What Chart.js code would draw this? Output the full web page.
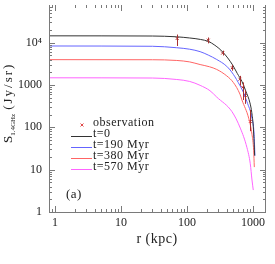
<!DOCTYPE html>
<html>
<head>
<meta charset="utf-8">
<script src="https://cdn.jsdelivr.net/npm/chart.js@4.4.1/dist/chart.umd.min.js"></script>
<style>
  html, body { margin: 0; padding: 0; background: #fff; }
  #chart { display: block; }
</style>
</head>
<body>
<canvas id="chart" width="275" height="264"></canvas>
<script>
// model curves, r in kpc, S in Jy/sr
var rT0    = [0.83, 30, 70, 110, 160, 210, 265, 350, 490, 580, 680, 780, 900, 960, 1010, 1040, 1060];
var sT0    = [14500, 14350, 13750, 12900, 11920, 10720, 8670, 5970, 2990, 1860, 1213, 713, 377, 222, 105, 42.8, 21.5];
var rT190  = [0.83, 30, 70, 110, 158, 210, 282, 400, 503, 635, 713, 811, 966, 1040, 1070];
var sT190  = [8350, 8220, 7590, 7000, 6135, 5095, 4010, 2765, 1790, 969, 679, 400, 164, 68, 21.4];
var rT380  = [0.83, 30, 70, 110, 158, 220, 282, 400, 503, 635, 680, 861, 966, 1025, 1047];
var sT380  = [3970, 3950, 3800, 3510, 3040, 2693, 2333, 1643, 1152, 608, 443, 164, 68, 27.9, 11.5];
var rT570  = [0.83, 30, 70, 110, 158, 223, 282, 481, 642, 811, 910, 966, 1010];
var sT570  = [1479, 1462, 1350, 1213, 982, 733, 519, 234, 96, 33, 13.8, 5.7, 3.3];

// observations with error bars
var obsR   = [71, 210, 347, 486, 635, 698, 764, 910];
var obsS   = [12570, 11480, 5670, 2555, 1371, 883, 568, 137];
var obsLo  = [8350, 9640, 4970, 2178, 966, 443, 358, 81];
var obsHi  = [15550, 13250, 6470, 2990, 1643, 1151, 753, 260];

var xTickVals   = [1, 10, 100, 1000];
var xTickLabels = ['1', '10', '100', '1000'];
var yTickVals   = [1, 10, 100, 1000, 10000];
var yTickLabels = ['1', '10', '100', '1000', '10\u2074'];

var seriesLabels = ['t=0', 't=190 Myr', 't=380 Myr', 't=570 Myr'];
var seriesColors = ['#333333', '#6464ff', '#ff6464', '#ff64ff'];

var serif = '"Liberation Serif", "DejaVu Serif", serif';

function pts(rs, ss) {
    return rs.map(function (r, i) { return { x: r, y: ss[i] }; });
}

var curves = [[rT0, sT0], [rT190, sT190], [rT380, sT380], [rT570, sT570]];
var datasets = curves.map(function (c, i) {
    return {
        label: seriesLabels[i],
        data: pts(c[0], c[1]),
        borderColor: seriesColors[i],
        borderWidth: 1,
        pointRadius: 0,
        cubicInterpolationMode: 'monotone',
        fill: false
    };
});
datasets.push({
    label: 'observation',
    data: pts(obsR, obsS),
    showLine: false,
    pointStyle: 'crossRot',
    pointRadius: 2,
    pointBorderColor: '#b02828',
    pointBorderWidth: 1
});

// frame, inner ticks, error bars, legend and titles
var decor = {
    id: 'decor',
    afterDatasetsDraw: function (chart) {
        var ctx = chart.ctx, sx = chart.scales.x, sy = chart.scales.y;
        ctx.save();
        ctx.strokeStyle = '#a83030';
        ctx.lineWidth = 1;
        obsR.forEach(function (r, i) {
            var px = Math.round(sx.getPixelForValue(r)) + 0.5;
            ctx.beginPath();
            ctx.moveTo(px, sy.getPixelForValue(obsLo[i]));
            ctx.lineTo(px, sy.getPixelForValue(obsHi[i]));
            ctx.stroke();
        });
        ctx.restore();
    },
    afterDraw: function (chart) {
        var ctx = chart.ctx, a = chart.chartArea;
        var sx = chart.scales.x, sy = chart.scales.y;
        ctx.save();
        ctx.strokeStyle = '#7a7a7a';
        ctx.lineWidth = 1;

        // frame (top edge sits just off the canvas)
        ctx.beginPath();
        ctx.moveTo(a.left + 0.5, a.top);
        ctx.lineTo(a.left + 0.5, a.bottom + 0.5);
        ctx.lineTo(a.right - 0.5, a.bottom + 0.5);
        ctx.lineTo(a.right - 0.5, a.top);
        ctx.stroke();

        var decades = [0.1, 1, 10, 100, 1000, 10000];
        ctx.beginPath();
        decades.forEach(function (d) {
            for (var m = 1; m < 10; m++) {
                var v = d * m, len = m === 1 ? 6 : 3, p;
                if (v >= sx.min && v <= sx.max) {
                    p = Math.round(sx.getPixelForValue(v)) + 0.5;
                    ctx.moveTo(p, a.bottom); ctx.lineTo(p, a.bottom - len);
                    ctx.moveTo(p, a.top); ctx.lineTo(p, a.top + len);
                }
                if (v >= sy.min && v <= sy.max) {
                    p = Math.round(sy.getPixelForValue(v)) + 0.5;
                    ctx.moveTo(a.left, p); ctx.lineTo(a.left + len, p);
                    ctx.moveTo(a.right, p); ctx.lineTo(a.right - len, p);
                }
            }
        });
        ctx.stroke();

        // legend
        ctx.fillStyle = '#222';
        ctx.font = '12px ' + serif;
        ctx.letterSpacing = '0.5px';
        ctx.textBaseline = 'alphabetic';
        ctx.textAlign = 'left';
        var obs = chart.data.datasets[4];
        ctx.strokeStyle = '#e04848';
        ctx.lineWidth = 1;
        ctx.beginPath();
        ctx.moveTo(80.5, 123.5); ctx.lineTo(83.5, 126.5);
        ctx.moveTo(83.5, 123.5); ctx.lineTo(80.5, 126.5);
        ctx.stroke();
        ctx.fillText(obs.label, 93, 125.5);
        var rows = [136.5, 147.5, 158.5, 169.5];
        for (var i = 0; i < 4; i++) {
            var ds = chart.data.datasets[i];
            ctx.strokeStyle = ds.borderColor;
            ctx.beginPath();
            ctx.moveTo(71, rows[i]); ctx.lineTo(92, rows[i]);
            ctx.stroke();
            ctx.fillText(ds.label, 93, rows[i]);
        }

        // panel tag
        ctx.font = '13px ' + serif;
        ctx.fillText('(a)', 66, 198);

        // x title
        ctx.font = '14px ' + serif;
        ctx.textAlign = 'center';
        ctx.fillText('r (kpc)', 157, 243);

        // y title, rotated
        ctx.translate(12, 143);
        ctx.rotate(-Math.PI / 2);
        ctx.textAlign = 'left';
        ctx.font = '13px ' + serif;
        ctx.letterSpacing = '0px';
        ctx.fillText('S', 0, 0);
        var w = ctx.measureText('S').width;
        ctx.font = '7px ' + serif;
        ctx.fillText('1.4GHz', w, 3);
        w += ctx.measureText('1.4GHz').width + 4;
        ctx.font = '13px ' + serif;
        ctx.letterSpacing = '2px';
        ctx.fillText('(Jy/sr)', w, 0);
        ctx.restore();
    }
};

var ctx = document.getElementById('chart').getContext('2d');
var chart = new Chart(ctx, {
    type: 'line',
    data: { datasets: datasets },
    options: {
        responsive: false,
        animation: false,
        layout: { padding: { top: 0, right: 9, bottom: 0, left: 0 } },
        plugins: {
            legend: { display: false },
            tooltip: { enabled: false }
        },
        scales: {
            x: {
                type: 'logarithmic',
                min: 0.811,
                max: 1575,
                grid: { display: false, drawTicks: false },
                border: { display: false },
                ticks: {
                    color: '#222',
                    font: { family: serif, size: 12 },
                    padding: 4,
                    maxRotation: 0,
                    autoSkip: false,
                    callback: function (v, i) { return xTickLabels[i]; }
                },
                afterBuildTicks: function (s) {
                    s.ticks = xTickVals.map(function (v) { return { value: v }; });
                },
                afterFit: function (s) {
                    s.height = 52;
                    s.paddingLeft = 0;
                    s.paddingRight = 0;
                }
            },
            y: {
                type: 'logarithmic',
                min: 1,
                max: 77600,
                grid: { display: false, drawTicks: false },
                border: { display: false },
                ticks: {
                    color: '#222',
                    font: { family: serif, size: 12 },
                    padding: 7,
                    autoSkip: false,
                    callback: function (v, i) { return yTickLabels[i]; }
                },
                afterBuildTicks: function (s) {
                    s.ticks = yTickVals.map(function (v) { return { value: v }; });
                },
                afterFit: function (s) {
                    s.width = 49;
                    s.paddingTop = 0;
                    s.paddingBottom = 0;
                }
            }
        }
    },
    plugins: [decor]
});
</script>
</body>
</html>
